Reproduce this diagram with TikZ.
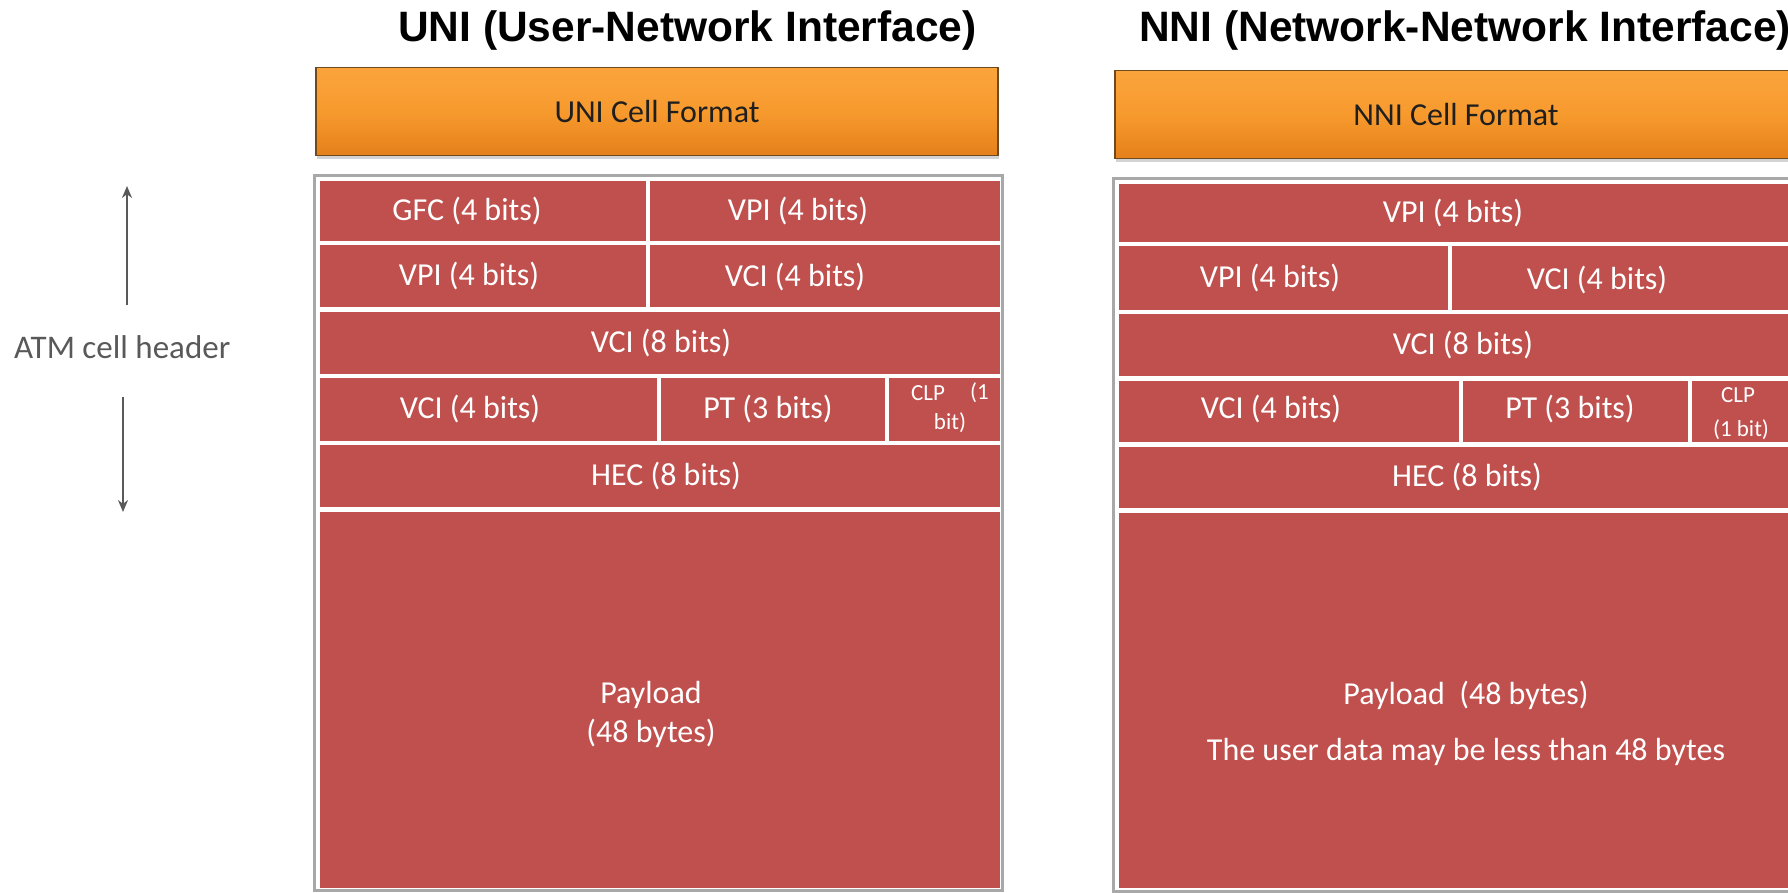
\documentclass[tikz,border=0pt]{standalone}
\usepackage{fontspec}
\setmainfont{Carlito}
\newfontfamily\titlefont{Liberation Sans}
\usetikzlibrary{arrows.meta,shadows}
\definecolor{cellred}{HTML}{C0504D}
\definecolor{frgray}{HTML}{A8A8A8}
\definecolor{orgtop}{HTML}{FBA43C}
\definecolor{orgmid}{HTML}{F79A2E}
\definecolor{orgbot}{HTML}{E5801A}
\definecolor{orgedge}{HTML}{6E4B1E}
\definecolor{annot}{HTML}{595959}
\begin{document}
\begin{tikzpicture}[x=1pt,y=-1pt,
  title/.style={font=\titlefont\bfseries\fontsize{42.5}{48}\selectfont, anchor=base west, inner sep=0pt, text=black},
  hdrbox/.style={draw=orgedge, line width=1.6pt, top color=orgtop, bottom color=orgbot, middle color=orgmid,
     minimum width=682pt, minimum height=88pt, inner sep=0pt,
     font=\fontsize{32}{38}\selectfont, text=black!88,
     drop shadow={shadow xshift=1pt, shadow yshift=-3pt, opacity=0.35}},
  frame/.style={draw=frgray, line width=3pt, fill=white,
     drop shadow={shadow xshift=-1pt, shadow yshift=-2pt, opacity=0.25}},
  sep/.style={white, line width=4.5pt},
  celltxt/.style={text=white, font=\fontsize{32}{38}\selectfont, inner sep=0pt},
  smalltxt/.style={text=white, font=\fontsize{23}{27}\selectfont, inner sep=0pt},
  annotarrow/.style={draw=annot, line width=2.4pt, -{Stealth[length=12pt,width=10pt]}}]
\clip (0,0) rectangle (1788,892);

% titles
\node[title] (unititle) at (398,41) {UNI (User-Network Interface)};
\node[title] (nnititle) at (1139,41) {NNI (Network-Network Interface)};

% header bars
\node[hdrbox] (unihdr) at (657,111.5) {UNI Cell Format};
\node[hdrbox] (nnihdr) at (1456,114.5) {NNI Cell Format};

% ---------- UNI cell ----------
\draw[frame] (314.5,175.5) rectangle (1002.5,890);
\fill[cellred] (320,181) rectangle (999.5,887.5);
\foreach \yy in {243,309.5,376,443,509.5}{\draw[sep] (320,\yy) -- (999.5,\yy);}
\draw[sep] (648,181) -- (648,309.5);
\draw[sep] (659,376) -- (659,443);
\draw[sep] (887,376) -- (887,443);

\node[celltxt] (ugfc) at (467,211) {GFC (4 bits)};
\node[celltxt] (uvpi1) at (798,211) {VPI (4 bits)};
\node[celltxt] (uvpi2) at (469,276) {VPI (4 bits)};
\node[celltxt] (uvci1) at (795,277) {VCI (4 bits)};
\node[celltxt] (uvci2) at (661,343) {VCI (8 bits)};
\node[celltxt] (uvci3) at (470,409) {VCI (4 bits)};
\node[celltxt] (upt) at (768,409) {PT (3 bits)};
\node[smalltxt, anchor=west] (uclpa) at (911,393) {CLP};
\node[smalltxt, anchor=east] (uclpb) at (989,393) {(1};
\node[smalltxt] (uclpc) at (950,423) {bit)};
\node[celltxt] (uhec) at (666,476) {HEC (8 bits)};
\node[celltxt, align=center, font=\fontsize{32}{39}\selectfont] (upay) at (651,714) {Payload\\(48 bytes)};

% ---------- NNI cell ----------
\draw[frame] (1113.5,178.5) rectangle (1802,891);
\fill[cellred] (1119,184) rectangle (1799,888);
\foreach \yy in {244,312,378.5,444.5,510.5}{\draw[sep] (1119,\yy) -- (1799,\yy);}
\draw[sep] (1450,244) -- (1450,312);
\draw[sep] (1461,378.5) -- (1461,444.5);
\draw[sep] (1690,378.5) -- (1690,444.5);

\node[celltxt] (nvpi1) at (1453,213) {VPI (4 bits)};
\node[celltxt] (nvpi2) at (1270,278) {VPI (4 bits)};
\node[celltxt] (nvci1) at (1597,280) {VCI (4 bits)};
\node[celltxt] (nvci2) at (1463,345) {VCI (8 bits)};
\node[celltxt] (nvci3) at (1271,409) {VCI (4 bits)};
\node[celltxt] (npt) at (1570,409) {PT (3 bits)};
\node[smalltxt] (nclpa) at (1738,395) {CLP};
\node[smalltxt] (nclpb) at (1741,430) {(1 bit)};
\node[celltxt] (nhec) at (1467,477) {HEC (8 bits)};
\node[celltxt] (npay) at (1466,695) {Payload\ \ (48 bytes)};
\node[celltxt] (nuser) at (1466,752) {The user data may be less than 48 bytes};

% ---------- annotation ----------
\node[anchor=base west, text=annot, font=\fontsize{33}{38}\selectfont, inner sep=0pt] (atm) at (14,358) {ATM cell header};
\coordinate (uptop) at (127,186);
\coordinate (upbot) at (127,305);
\coordinate (dntop) at (123,397);
\coordinate (dnbot) at (123,512);
\draw[annotarrow] (upbot) -- (uptop);
\draw[annotarrow] (dntop) -- (dnbot);
\end{tikzpicture}
\end{document}
